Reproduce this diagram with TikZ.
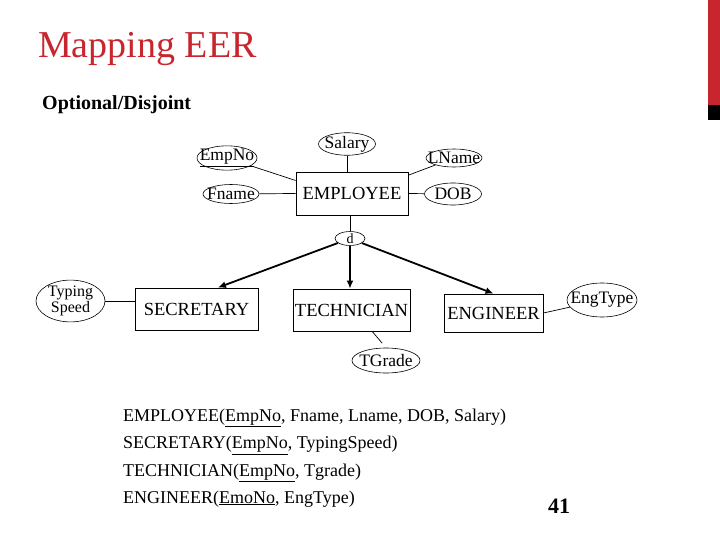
\documentclass[tikz,border=0pt]{standalone}
\usepackage{fontspec}
\setmainfont{Liberation Serif}
\usetikzlibrary{arrows.meta, shapes.geometric}
\definecolor{slidered}{RGB}{200,38,46}
\tikzset{
    >=Latex,
    x=1pt, y=-1pt,
    er_entity/.style={
        rectangle,
        draw=black,
        line width=0.8pt,
        inner sep=2pt,
        font=\fontsize{18.5}{20}\selectfont
    },
    er_attr/.style={
        ellipse,
        draw=black,
        line width=0.6pt,
        inner sep=0pt,
        font=\fontsize{17.5}{18}\selectfont
    },
    er_link/.style={
        line width=0.7pt
    },
    er_arrow/.style={
        -{Latex[length=8pt, width=7pt]},
        line width=1.8pt
    },
    er_relation/.style={
        anchor=base west,
        inner sep=0pt,
        font=\fontsize{18}{20}\selectfont
    },
    slide_text/.style={
        anchor=base west,
        inner sep=0pt
    }
}
% label that may run over its ellipse
\newcommand{\attrlabel}[1]{\makebox[0pt]{#1}}

\begin{document}
\begin{tikzpicture}
\useasboundingbox (0,0) rectangle (720,540);

% --- Slide frame ---
\fill[slidered] (708,0) rectangle (720,105);
\fill[black] (708,105) rectangle (720,120);
\node[slide_text, text=slidered, font=\fontsize{38}{42}\selectfont] (title) at (38,58) {Mapping EER};
\node[slide_text, font=\bfseries\fontsize{20}{22}\selectfont] (subtitle) at (42,110) {Optional/Disjoint};

% --- Superclass ---
\node[er_entity, minimum width=112pt, minimum height=43pt] (emp) at (352,193.5) {EMPLOYEE};
\node[er_attr, minimum width=57pt, minimum height=19pt] (sal) at (347,144) {\attrlabel{Salary}};
\node[er_attr, minimum width=60pt, minimum height=18pt] (empno) at (227,158) {\attrlabel{\underline{EmpNo}}};
\node[er_attr, minimum width=56pt, minimum height=19pt] (fname) at (231,194) {\attrlabel{Fname}};
\node[er_attr, minimum width=56pt, minimum height=18pt] (lname) at (454,158) {\attrlabel{LName}};
\node[er_attr, minimum width=57pt, minimum height=22pt] (dob) at (453,194) {\attrlabel{DOB}};

% --- Disjoint circle ---
\node[er_attr, minimum width=30pt, minimum height=13pt, font=\fontsize{14}{14}\selectfont] (disj) at (350,238.5) {\attrlabel{d}};

% --- Subclasses ---
\node[er_entity, minimum width=123pt, minimum height=42pt] (sec) at (196.5,309) {SECRETARY};
\node[er_entity, minimum width=113pt, minimum height=42pt] (tech) at (351.5,310) {TECHNICIAN};
\node[er_entity, minimum width=99pt, minimum height=38pt] (eng) at (493.5,313) {ENGINEER};
\node[er_attr, minimum width=69pt, minimum height=32pt, align=center, font=\fontsize{16}{12}\selectfont] (typ) at (70.5,301) {Typing\\Speed};
\node[er_attr, minimum width=70pt, minimum height=34pt] (engt) at (602,300) {\attrlabel{EngType}};
\node[er_attr, minimum width=68pt, minimum height=25pt] (tgr) at (386,360.5) {\attrlabel{TGrade}};

% --- Edges ---
\draw[er_link] (sal) -- (sal |- emp.north);
\draw[er_link] (empno) -- (emp.167);
\draw[er_link] (fname) -- (emp.west);
\draw[er_link] (lname) -- (emp.18);
\draw[er_link] (emp.east) -- (dob);
\draw[er_link] (disj |- emp.south) -- (disj);
\draw[er_link] (typ) -- (typ -| sec.west);
\draw[er_link] (eng.east) -- (engt);
\draw[er_link, shorten >=6pt] (tech.-46) -- (tgr.north);

\draw[er_arrow] (disj) -- (sec.45);
\draw[er_arrow] (disj) -- (disj |- tech.north);
\draw[er_arrow] (disj) -- (eng.north);

% --- Relations ---
\node[er_relation] (relEmp) at (123,421) {EMPLOYEE(\underline{EmpNo}, Fname, Lname, DOB, Salary)};
\node[er_relation] (relSec) at (123,448.5) {SECRETARY(\underline{EmpNo}, TypingSpeed)};
\node[er_relation] (relTech) at (123,476) {TECHNICIAN(\underline{EmpNo}, Tgrade)};
\node[er_relation] (relEng) at (123,503) {ENGINEER(\underline{EmoNo}, EngType)};
\node[slide_text, font=\bfseries\fontsize{22}{24}\selectfont] (pageNo) at (548,513) {41};

\end{tikzpicture}
\end{document}
